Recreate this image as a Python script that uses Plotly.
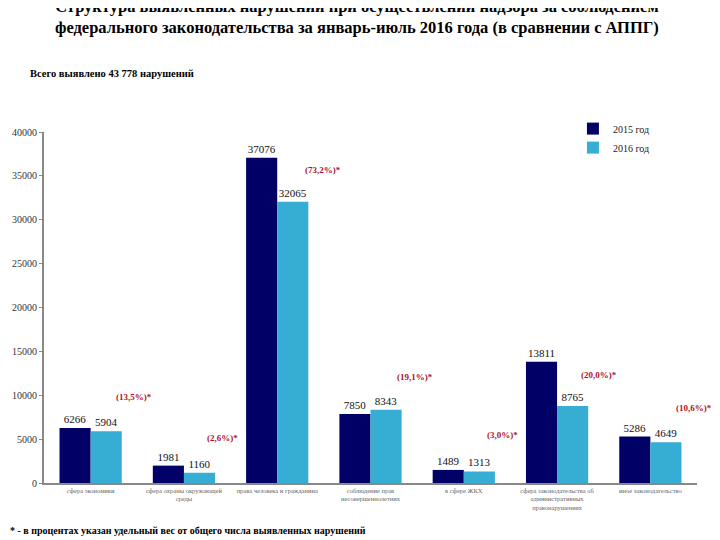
import plotly.graph_objects as go

categories = [
    "сфера экономики",
    "сфера охраны окружающей<br>среды",
    "права человека и гражданина",
    "соблюдение прав<br>несовершеннолетних",
    "в сфере ЖКХ",
    "сфера законодательства об<br>административных<br>правонарушениях",
    "иное законодательство",
]
values_2015 = [6266, 1981, 37076, 7850, 1489, 13811, 5286]
values_2016 = [5904, 1160, 32065, 8343, 1313, 8765, 4649]
shares = ["(13,5%)*", "(2,6%)*", "(73,2%)*", "(19,1%)*", "(3,0%)*", "(20,0%)*", "(10,6%)*"]
share_x = [0.47, 1.41, 2.49, 3.48, 4.41, 5.45, 6.47]
share_y = [9800, 5130, 35670, 12080, 5470, 12300, 8550]
y_ticks = [0, 5000, 10000, 15000, 20000, 25000, 30000, 35000, 40000]

serif = "Liberation Serif, Times New Roman, serif"

fig = go.Figure()
fig.add_bar(x=list(range(len(categories))), y=values_2015, name="2015 год",
            marker=dict(color="#000066", line=dict(width=0)),
            text=[str(v) for v in values_2015], textposition="outside",
            textfont=dict(family=serif, size=11, color="#111"), cliponaxis=False)
fig.add_bar(x=list(range(len(categories))), y=values_2016, name="2016 год",
            marker=dict(color="#36AED4", line=dict(width=0)),
            text=[str(v) for v in values_2016], textposition="outside",
            textfont=dict(family=serif, size=11, color="#111"), cliponaxis=False)

for sx, sy, s in zip(share_x, share_y, shares):
    fig.add_annotation(x=sx, y=sy, xref="x", yref="y", text=f"<b>{s}</b>", showarrow=False,
                       font=dict(family=serif, size=9, color="#B0102A"))

fig.add_annotation(xref="paper", yref="paper", x=0.48, y=1.328, xanchor="center", yanchor="middle",
                   text="<b>Структура выявленных нарушений при осуществлении надзора за соблюдением</b><br>"
                        "<b>федерального законодательства за январь-июль 2016 года (в сравнении с АППГ)</b>",
                   showarrow=False, font=dict(family=serif, size=16.5, color="#000"), align="center")
fig.add_annotation(xref="paper", yref="paper", x=-0.0245, y=1.167, xanchor="left", yanchor="middle",
                   text="<b>Всего выявлено 43 778 нарушений</b>", showarrow=False,
                   font=dict(family=serif, size=10.5, color="#000"))
fig.add_annotation(xref="paper", yref="paper", x=-0.055, y=-0.134, xanchor="left", yanchor="middle",
                   text="<b>* - в процентах указан удельный вес от общего числа выявленных нарушений</b>",
                   showarrow=False, font=dict(family=serif, size=10, color="#000"))

fig.update_layout(
    width=712, height=532,
    margin=dict(l=36, r=23, t=124, b=57, autoexpand=False),
    paper_bgcolor="white", plot_bgcolor="white",
    barmode="group", bargap=0.333, bargroupgap=0,
    font=dict(family=serif),
    legend=dict(x=0.81, y=1.051, xanchor="left", yanchor="top", bgcolor="rgba(0,0,0,0)",
                font=dict(family=serif, size=10, color="#222"), itemwidth=30, tracegroupgap=0),
    xaxis=dict(tickmode="array", tickvals=list(range(len(categories))), ticktext=categories,
               tickfont=dict(family=serif, size=6.5, color="#666"), showline=True, automargin=False,
               linecolor="#888", linewidth=2, range=[-0.5, 6.5], ticks=""),
    yaxis=dict(range=[0, 40000], tickvals=y_ticks, tickformat="d", showgrid=False, showline=True,
               automargin=False,
               linecolor="#888", linewidth=2, tickfont=dict(family=serif, size=10, color="#333"),
               ticks="outside", ticklen=3, tickcolor="#888", zeroline=False),
    showlegend=True,
)
fig.write_html("out.html")
